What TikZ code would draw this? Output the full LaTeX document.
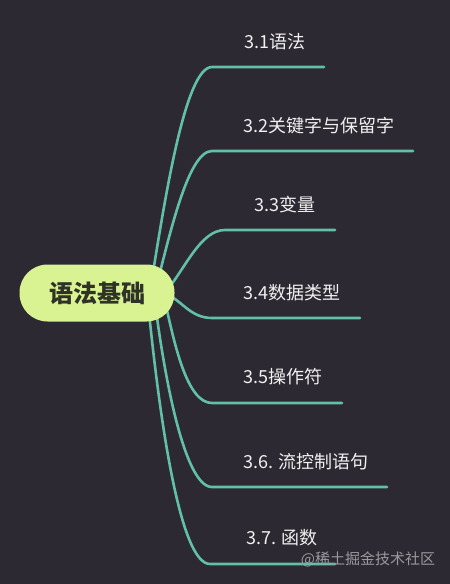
\documentclass[tikz,border=0pt]{standalone}
\usepackage{fontspec}
\setmainfont{Noto Sans CJK SC}
\usetikzlibrary{positioning}
\definecolor{bgdark}{HTML}{2D2932}
\definecolor{branchcol}{HTML}{62BFA9}
\definecolor{rootfill}{HTML}{D9F392}
\definecolor{roottext}{HTML}{2F3326}
\definecolor{marktext}{HTML}{9A989E}
\pgfdeclarelayer{back}
\pgfdeclarelayer{lines}
\pgfsetlayers{back,lines,main}

\begin{document}
\begin{tikzpicture}[x=1pt, y=-1pt,
    root/.style={fill=rootfill, text=roottext, rounded corners=28pt, minimum width=155pt, minimum height=57pt, font=\fontsize{24}{28}\selectfont\bfseries},
    leaf/.style={text=white!94!black, inner sep=0pt, font=\fontsize{18}{22}\selectfont},
    branch/.style={draw=branchcol, line width=2.6pt, line cap=round}]
        \begin{pgfonlayer}{back}
            \fill[bgdark] (0,0) rectangle (450,584);
        \end{pgfonlayer}
        \useasboundingbox (0,0) rectangle (450,584);

        \node[root] (r) at (97,293) {语法基础};
        \node[leaf] (l1) at (275,42) {3.1语法};
        \node[leaf] (l2) at (319,126) {3.2关键字与保留字};
        \node[leaf] (l3) at (285,205) {3.3变量};
        \node[leaf] (l4) at (292,293) {3.4数据类型};
        \node[leaf] (l5) at (283,377) {3.5操作符};
        \node[leaf] (l6) at (306,462) {3.6. 流控制语句};
        \node[leaf] (l7) at (282,538) {3.7. 函数};
        \node[text=marktext, inner sep=0pt, font=\fontsize{15}{18}\selectfont] (wm) at (368,559) {@稀土掘金技术社区};

        \coordinate (b1) at (212,67);  \coordinate (e1) at (324,67);
        \coordinate (b2) at (212,151); \coordinate (e2) at (413,151);
        \coordinate (b3) at (225,230); \coordinate (e3) at (335,230);
        \coordinate (b4) at (212,318); \coordinate (e4) at (360,318);
        \coordinate (b5) at (212,403); \coordinate (e5) at (342,403);
        \coordinate (b6) at (212,487); \coordinate (e6) at (387,487);
        \coordinate (b7) at (210,564); \coordinate (e7) at (335,564);

        \begin{pgfonlayer}{lines}
        \path[branch]
        ([xshift=-25pt]r.east) .. controls +(15,-93) and +(-27,0) .. (b1) -- (e1)
        ([xshift=-20pt]r.east) .. controls +(15,-58) and +(-24,0) .. (b2) -- (e2)
        ([xshift=-10pt]r.east) .. controls +(20,-23) and +(-25,0) .. (b3) -- (e3)
        ([xshift=-10pt]r.east) .. controls +(17,7) and +(-22,0) .. (b4) -- (e4)
        ([xshift=-10pt,yshift=-7pt]r.east) .. controls +(10,45) and +(-25,0) .. (b5) -- (e5)
        ([xshift=-20pt,yshift=-7pt]r.east) .. controls +(10,80) and +(-27,0) .. (b6) -- (e6)
        ([xshift=-27pt,yshift=-7pt]r.east) .. controls +(12,120) and +(-30,0) .. (b7) -- (e7)
        ;
        \end{pgfonlayer}
    \end{tikzpicture}
\end{document}
